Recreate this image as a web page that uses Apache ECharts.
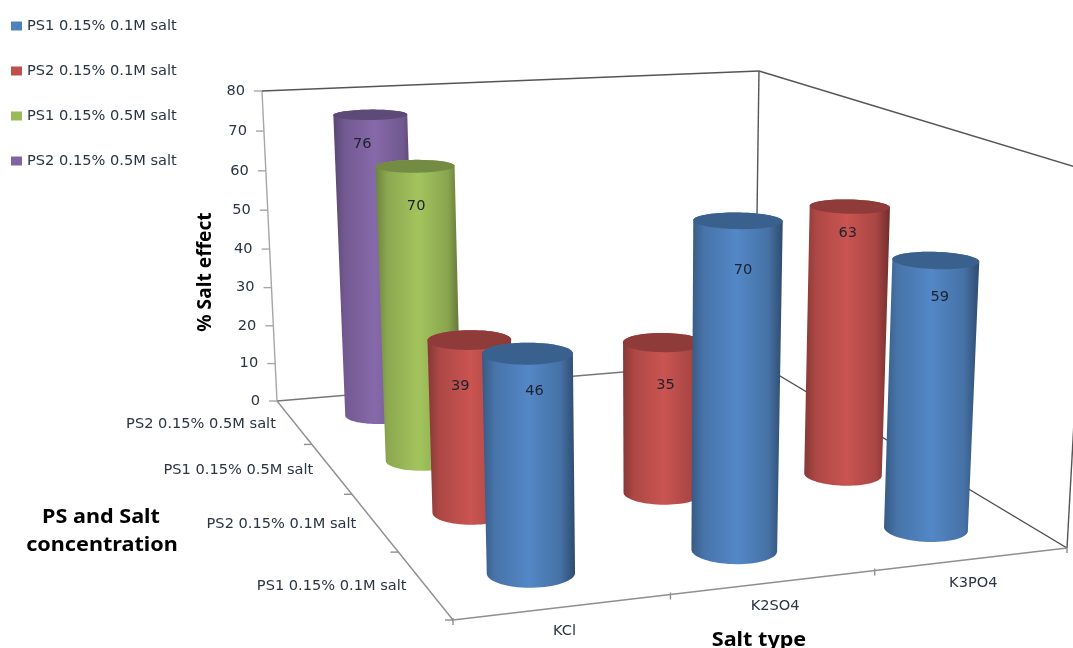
<!DOCTYPE html>
<html>
<head>
<meta charset="utf-8">
<style>html,body{margin:0;padding:0;background:#fff}#chart{width:1073px;height:648px}</style>
<script src="https://cdn.jsdelivr.net/npm/echarts@6/dist/echarts.min.js"></script>
</head>
<body>
<div id="chart"></div>
<script>
// Salt effect on PS1/PS2, drawn as a perspective cylinder chart.
const saltTypes = ['KCl', 'K2SO4', 'K3PO4'];
const depthLabels = ['PS2 0.15% 0.5M salt', 'PS1 0.15% 0.5M salt', 'PS2 0.15% 0.1M salt', 'PS1 0.15% 0.1M salt'];
const legendNames = ['PS1 0.15% 0.1M salt', 'PS2 0.15% 0.1M salt', 'PS1 0.15% 0.5M salt', 'PS2 0.15% 0.5M salt'];
const ps1Low = [46, 70, 59];
const ps2Low = [39, 35, 63];
const ps1High = [70, null, null];
const ps2High = [76, null, null];
const valueTicks = [0, 10, 20, 30, 40, 50, 60, 70, 80];

const FONT = '"DejaVu Sans"';
const TITLE_FONT = '"Noto Sans"';
const TEXT = '#2b3442';
const LABEL_SIZE = 14.6;

// Box corners on screen: floor back-left, back-right, front-right, front-left.
const floor = [[277, 401], [755, 361], [1067, 548], [453, 620]];
const verticalVanish = [649, 8083];
const wallTop = [262, 91];

// Unit square to floor quad, then the vertical direction added as a third axis.
const cam = (() => {
  const [[x0, y0], [x1, y1], [x2, y2], [x3, y3]] = floor;
  const dx1 = x1 - x2, dx2 = x3 - x2, sx = x0 - x1 + x2 - x3;
  const dy1 = y1 - y2, dy2 = y3 - y2, sy = y0 - y1 + y2 - y3;
  const den = dx1 * dy2 - dx2 * dy1;
  const g = (sx * dy2 - dx2 * sy) / den, h = (dx1 * sy - sx * dy1) / den;
  const k = (wallTop[1] - y0) / (verticalVanish[1] - wallTop[1]);
  return { a: x1 - x0 + g * x1, b: x3 - x0 + h * x3, c: x0, d: y1 - y0 + g * y1, e: y3 - y0 + h * y3, f: y0, g, h, k };
})();

function project(u, v, w) {
  const m = cam;
  const q = m.g * u + m.h * v + 1 + m.k * w;
  return [
    (m.a * u + m.b * v + m.c + m.k * verticalVanish[0] * w) / q,
    (m.d * u + m.e * v + m.f + m.k * verticalVanish[1] * w) / q
  ];
}

function hull(points) {
  const p = points.slice().sort((s, t) => s[0] - t[0] || s[1] - t[1]);
  const cross = (o, s, t) => (s[0] - o[0]) * (t[1] - o[1]) - (s[1] - o[1]) * (t[0] - o[0]);
  const half = list => {
    const out = [];
    list.forEach(q => {
      while (out.length > 1 && cross(out[out.length - 2], out[out.length - 1], q) <= 0) out.pop();
      out.push(q);
    });
    out.pop();
    return out;
  };
  return half(p).concat(half(p.slice().reverse()));
}

// Flat axis position -> floor/height fractions of the box.
const fractions = (api, cs, cat, val) => {
  const pt = api.coord([cat, val]);
  return [(pt[0] - cs.x) / cs.width, (cs.y + cs.height - pt[1]) / cs.height];
};

const RADIUS_U = 0.067, RADIUS_V = 0.053;
const rowV = row => (row + 0.5) / depthLabels.length;

function shade(hex, f) {
  const n = parseInt(hex.slice(1), 16);
  const ch = s => Math.min(255, Math.round(((n >> s) & 255) * f));
  return `rgb(${ch(16)},${ch(8)},${ch(0)})`;
}

// Value label placement below each lid, per salt type.
const LABEL_DROP = 36;
const ps1LowLabelShift = [[7, 2], [5, 14], [4, 1]];
const ps2LowLabelShift = [[-9, 10], [2, 7], [-2, -9]];
const ps1HighLabelShift = [[1, 4]];
const ps2HighLabelShift = [[-8, -7]];

function cylinderSeries(name, values, row, color, lidColor, labelShift) {
  return {
    type: 'custom',
    name,
    coordinateSystem: 'cartesian2d',
    z: 10 + row,
    silent: true,
    itemStyle: { color },
    encode: { x: 0, y: 1 },
    data: values.map((val, i) => [i, val]).filter(d => d[1] !== null),
    renderItem(params, api) {
      const cs = params.coordSys;
      const cat = api.value(0), val = api.value(1);
      const [u, w] = fractions(api, cs, cat, val);
      const v = rowV(row);
      const ring = level => {
        const pts = [];
        for (let i = 0; i < 72; i++) {
          const t = i / 72 * Math.PI * 2;
          pts.push(project(u + RADIUS_U * Math.cos(t), v + RADIUS_V * Math.sin(t), level));
        }
        return pts;
      };
      const lid = ring(w), base = ring(0);
      const lidCentre = project(u, v, w);
      const shift = labelShift[cat];
      return {
        type: 'group',
        children: [
          {
            type: 'polygon',
            shape: { points: hull(lid.concat(base)) },
            style: {
              fill: new echarts.graphic.LinearGradient(0, 0, 1, 0, [
                { offset: 0, color: shade(color, 0.7) },
                { offset: 0.14, color: shade(color, 0.9) },
                { offset: 0.5, color: shade(color, 1.05) },
                { offset: 0.84, color: shade(color, 0.88) },
                { offset: 1, color: shade(color, 0.58) }
              ])
            }
          },
          { type: 'polygon', shape: { points: lid }, style: { fill: lidColor } },
          {
            type: 'text',
            z2: 5,
            style: {
              text: String(val),
              x: lidCentre[0] + shift[0],
              y: lidCentre[1] + LABEL_DROP + shift[1],
              fill: '#1c2230',
              font: `${LABEL_SIZE}px ${FONT}`,
              align: 'center',
              verticalAlign: 'middle'
            }
          }
        ]
      };
    }
  };
}

function frameItem(params, api) {
  const cs = params.coordSys;
  const seg = (p, q, stroke) => ({
    type: 'line',
    shape: { x1: p[0], y1: p[1], x2: q[0], y2: q[1] },
    style: { stroke, lineWidth: 1.4 }
  });
  const LIGHT = '#a6a6a6', DARK = '#555555', FLOOR = '#8f8f8f';
  const kids = [
    seg(project(0, 0, 0), project(0, 0, 1), LIGHT),
    seg(project(0, 0, 1), project(1, 0, 1), DARK),
    seg(project(1, 0, 1), project(1, 0, 0), DARK),
    seg(project(1, 0, 1), project(1, 1, 1), DARK),
    seg(project(1, 1, 1), project(1, 1, 0), DARK),
    seg(project(0, 0, 0), project(1, 0, 0), '#777777'),
    seg(project(1, 0, 0), project(1, 1, 0), '#4a4a4a'),
    seg(project(0, 0, 0), project(0, 1, 0), FLOOR),
    seg(project(0, 1, 0), project(1, 1, 0), FLOOR)
  ];
  valueTicks.forEach(t => {
    const [, w] = fractions(api, cs, 0, t);
    const p = project(0, 0, w);
    kids.push(seg([p[0] - 8, p[1]], p, LIGHT));
    kids.push({
      type: 'text',
      style: {
        text: String(t), x: p[0] - 17, y: p[1], fill: TEXT, font: `${LABEL_SIZE}px ${FONT}`,
        align: 'right', verticalAlign: 'middle'
      }
    });
  });
  saltTypes.forEach((name, i) => {
    const [u] = fractions(api, cs, i, 0);
    const p = project(u, 1, 0);
    kids.push({
      type: 'text',
      style: {
        text: name, x: p[0] + 1, y: p[1] + 24, fill: TEXT, font: `${LABEL_SIZE}px ${FONT}`,
        align: 'center', verticalAlign: 'middle'
      }
    });
    const t = project(i / saltTypes.length, 1, 0);
    kids.push(seg([t[0], t[1] - 2], [t[0], t[1] + 5], FLOOR));
  });
  const corner = project(1, 1, 0);
  kids.push(seg(corner, [corner[0], corner[1] + 5], FLOOR));
  depthLabels.forEach((name, i) => {
    const p = project(0, rowV(i), 0);
    kids.push({
      type: 'text',
      style: {
        text: name, x: p[0] - 18, y: p[1] + 2, fill: TEXT, font: `${LABEL_SIZE}px ${FONT}`,
        align: 'right', verticalAlign: 'middle'
      }
    });
    const b = project(0, (i + 1) / depthLabels.length, 0);
    kids.push(seg([b[0] - 8, b[1]], b, FLOOR));
  });
  return { type: 'group', children: kids };
}

const horizontalTitle = (text, x, y) => ({
  type: 'text', x, y, scaleX: 1.08,
  style: { text, fill: '#000', font: `bold 20px ${TITLE_FONT}`, align: 'center', verticalAlign: 'middle' }
});

const chart = echarts.init(document.getElementById('chart'), null, { renderer: 'canvas' });
chart.setOption({
  animation: false,
  backgroundColor: '#fff',
  grid: { left: 100, right: 100, top: 100, bottom: 100 },
  xAxis: { type: 'category', data: saltTypes, show: false },
  yAxis: { type: 'value', min: 0, max: 80, interval: 10, show: false },
  legend: {
    orient: 'vertical',
    left: 11,
    top: 18,
    padding: 0,
    data: legendNames,
    icon: 'rect',
    itemWidth: 11,
    itemHeight: 9,
    itemGap: 29,
    textStyle: { fontFamily: FONT, fontSize: LABEL_SIZE, color: TEXT, lineHeight: 16 }
  },
  graphic: [
    { type: 'text', x: 206, y: 272, rotation: Math.PI / 2, style: { text: '% Salt effect', fill: '#000', font: `bold 19.2px ${TITLE_FONT}`, align: 'center', verticalAlign: 'middle' } },
    horizontalTitle('PS and Salt', 101, 517),
    horizontalTitle('concentration', 102, 545),
    horizontalTitle('Salt type', 759, 640)
  ],
  series: [
    { type: 'custom', name: 'frame', coordinateSystem: 'cartesian2d', z: 1, silent: true, encode: { x: 0, y: 1 }, data: [[0, 0]], renderItem: frameItem },
    cylinderSeries(legendNames[0], ps1Low, 3, '#4F81BD', '#3A608E', ps1LowLabelShift),
    cylinderSeries(legendNames[1], ps2Low, 2, '#C0504D', '#8F3B39', ps2LowLabelShift),
    cylinderSeries(legendNames[2], ps1High, 1, '#9BBB59', '#738B42', ps1HighLabelShift),
    cylinderSeries(legendNames[3], ps2High, 0, '#8064A2', '#5E4A78', ps2HighLabelShift)
  ]
});
</script>
</body>
</html>
